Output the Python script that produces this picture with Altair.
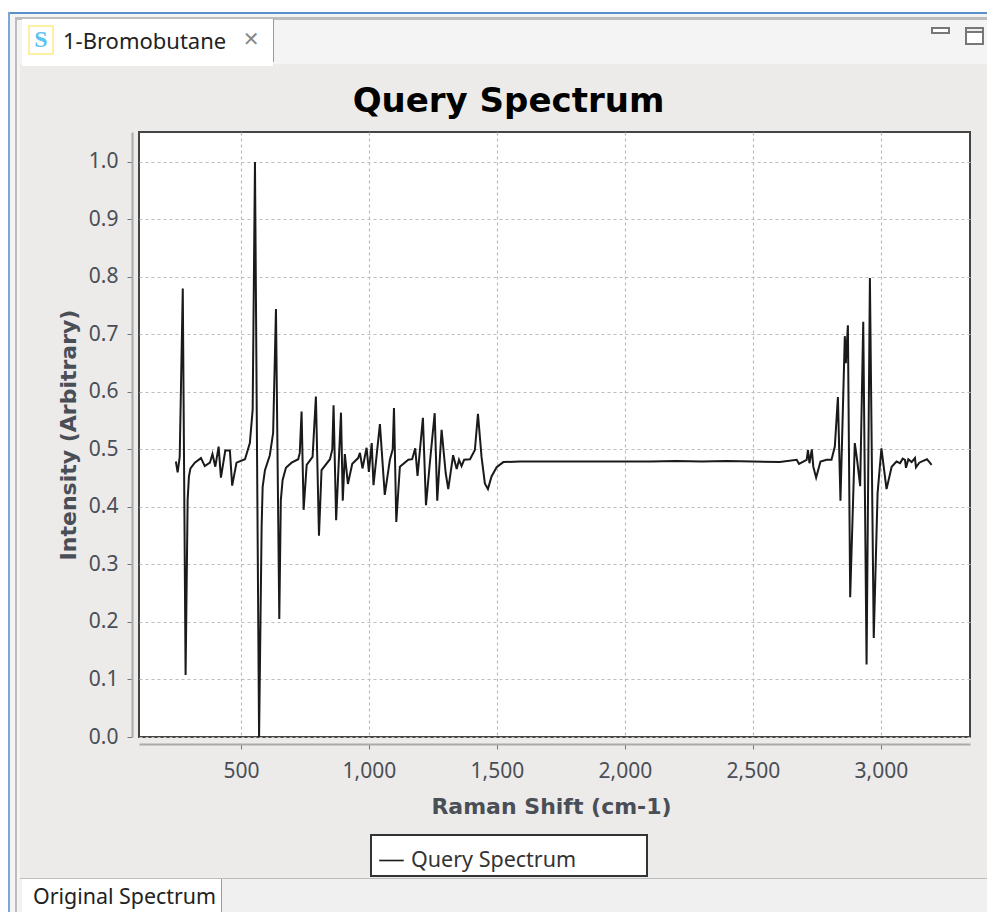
import altair as alt
import pandas as pd

series_name = "Query Spectrum"
x_ticks = [500, 1000, 1500, 2000, 2500, 3000]
y_ticks = [0.0, 0.1, 0.2, 0.3, 0.4, 0.5, 0.6, 0.7, 0.8, 0.9, 1.0]

raman_shift = [
    246, 253, 261, 273, 284, 292, 297, 303, 320, 344, 359, 379, 389, 400, 413, 422, 439, 457, 466, 483, 516,
    535, 546, 555, 571, 581, 585, 594, 613, 626, 637, 650, 656, 663, 676, 698, 724, 730, 737, 745, 757, 780, 793, 805,
    815, 848, 857, 862, 872, 891, 898, 906, 918, 935, 958, 965, 975, 991, 1000, 1011, 1018, 1043, 1062, 1082, 1093, 1098,
    1107, 1121, 1154, 1169, 1181, 1190, 1211, 1223, 1238, 1257, 1267, 1284, 1300, 1310, 1329, 1343, 1352, 1362, 1372, 1395,
    1414, 1426, 1440, 1453, 1465, 1479, 1499, 1525, 1590, 1700, 1800, 1900, 2000, 2100, 2200, 2300, 2400, 2500, 2605, 2671,
    2680, 2710, 2715, 2721, 2730, 2736, 2747, 2764, 2788, 2807, 2820, 2832, 2842, 2859, 2863, 2871, 2880, 2898, 2907, 2919,
    2931, 2944, 2957, 2972, 2987, 3002, 3022, 3042, 3061, 3075, 3085, 3094, 3098, 3107, 3120, 3133, 3137, 3150, 3165, 3180, 3198,
]
intensity = [
    .479, .460, .487, .780, .108, .412, .453, .467, .477, .485, .471, .477, .492, .470, .505, .451, .498, .498, .437, .477, .483,
    .511, .569, 1.0, 0.0, .366, .435, .464, .490, .529, .744, .205, .412, .447, .468, .477, .483, .494, .566, .395, .473, .487, .592, .350,
    .464, .483, .500, .577, .377, .564, .411, .492, .440, .475, .485, .494, .467, .503, .461, .511, .438, .544, .421, .482, .500, .572,
    .374, .470, .482, .483, .502, .454, .555, .403, .476, .563, .411, .534, .459, .431, .490, .466, .482, .471, .482, .483,
    .499, .562, .487, .441, .431, .453, .469, .478, .479, .479, .479, .479, .479, .479, .480, .479, .480, .479, .478, .482,
    .475, .482, .499, .476, .500, .470, .451, .479, .482, .482, .505, .591, .411, .697, .650, .716, .243, .511, .482, .436,
    .722, .126, .798, .172, .424, .502, .431, .470, .479, .476, .484, .482, .468, .483, .478, .485, .469, .477, .480, .483, .473,
]

PLOT_L, PLOT_T, PLOT_W, PLOT_H = 139, 132, 831, 605
TEXT_FONT = "Noto Sans"
INK = "#4A4E57"
PANEL = "#ECEBE9"

df = pd.DataFrame({"shift": raman_shift, "intensity": intensity, "series": series_name})
seed = pd.DataFrame({"a": [0]})


def box(x0, y0, x1, y1, fill, stroke=None, sw=1):
    kw = {"fill": fill}
    if stroke:
        kw.update(stroke=stroke, strokeWidth=sw)
    return alt.Chart(seed).mark_rect(**kw).encode(
        x=alt.value(x0 - PLOT_L), x2=alt.value(x1 - PLOT_L),
        y=alt.value(y0 - PLOT_T), y2=alt.value(y1 - PLOT_T),
    )


def label(text, x0, y0, size, color="#222222", font=TEXT_FONT, align="left", weight="normal"):
    return alt.Chart(seed).mark_text(
        text=text, font=font, fontSize=size, color=color, align=align, baseline="middle", fontWeight=weight
    ).encode(x=alt.value(x0 - PLOT_L), y=alt.value(y0 - PLOT_T))


chrome = [
    box(8, 8, 987, 12, "#FFFFFF"),
    box(8, 12, 987, 14, "#5B8FC9"),
    box(8, 12, 10, 912, "#7FA6D3"),
    box(10, 14, 987, 64, "#F4F4F4"),
    box(10, 14, 20, 912, "#F4F4F4"),
    box(15, 17, 987, 20, "#BDBDBD"),
    box(15, 17, 17, 912, "#BDBDBD"),
    box(20, 878, 987, 879, "#BDBDBD"),
    box(20, 879, 987, 912, "#F0F0F0"),
    box(22, 19, 273, 66, "#FFFFFF"),
    box(273, 19, 274, 62, "#9A9A9A"),
    box(22, 879, 221, 912, "#FFFFFF"),
    box(221, 879, 222, 912, "#9A9A9A"),
    box(29, 26, 53, 54, "#FFFFFF", "#FCEFA6", 2),
    box(932, 28, 949, 33, "#FFFFFF", "#777777", 2),
    box(966, 28, 983, 44, "#FFFFFF", "#777777", 2),
    box(966, 28, 983, 32, "#EEEEEE", "#777777", 2),
    box(371, 835, 647, 876, "#FFFFFF", "#333333", 2),
    label("S", 41, 40, 24, "#5CC3F0", "Liberation Serif", "center", "bold"),
    label("1-Bromobutane", 63, 42, 22),
    label("\u2715", 251, 40, 20, "#888888", "DejaVu Sans", "center"),
    label("Original Spectrum", 33, 898, 21.4),
]

spectrum = alt.Chart(df).mark_line(strokeWidth=2, strokeJoin="miter", strokeMiterLimit=4).encode(
    x=alt.X(
        "shift:Q",
        scale=alt.Scale(domain=[102, 3348], nice=False, zero=False),
        title="Raman Shift (cm-1)",
        axis=alt.Axis(values=x_ticks, format=",d", offset=7, tickSize=5, tickColor="#777777",
                      domainColor="#AAAAAA", domainWidth=2, labelPadding=11, titlePadding=15,
                      titleX=412),
    ),
    y=alt.Y(
        "intensity:Q",
        scale=alt.Scale(domain=[0, 1.052], nice=False, zero=False),
        title="Intensity (Arbitrary)",
        axis=alt.Axis(values=y_ticks, format=".1f", offset=7, tickSize=5, tickColor="#777777",
                      domainColor="#AAAAAA", domainWidth=2, labelPadding=9, titlePadding=8),
    ),
    color=alt.Color(
        "series:N",
        scale=alt.Scale(domain=[series_name], range=["#1A1A1A"]),
        legend=alt.Legend(
            title=None, orient="none", legendX=378 - PLOT_L, legendY=847 - PLOT_T,
            symbolType="stroke", symbolSize=600, symbolStrokeWidth=1.6,
            labelFont=TEXT_FONT, labelFontSize=21.5, labelColor="#333333", labelOffset=6, labelLimit=300,
        ),
    ),
)

chart = alt.layer(*chrome, spectrum).properties(
    width=PLOT_W,
    height=PLOT_H,
    padding={"left": PLOT_L - 8, "top": PLOT_T - 8, "right": 17, "bottom": 175},
    autosize=alt.AutoSizeParams(type="none"),
    background=PANEL,
    title=alt.TitleParams(
        "Query Spectrum", font="DejaVu Sans", fontWeight="bold", fontSize=34, color="#000000",
        anchor="middle", frame="group", dx=-46, dy=127, offset=16,
    ),
).configure_view(fill="#FFFFFF", stroke="#444444", strokeWidth=2).configure_axis(
    labelFont=TEXT_FONT, labelFontSize=21, labelColor=INK,
    titleFont="DejaVu Sans", titleFontSize=22, titleFontWeight="bold", titleColor=INK,
    grid=True, gridColor="#BDBDBD", gridDash=[3, 3], gridWidth=1.2,
)

chart.save("out.html", embed_options={"renderer": "svg", "actions": False})
